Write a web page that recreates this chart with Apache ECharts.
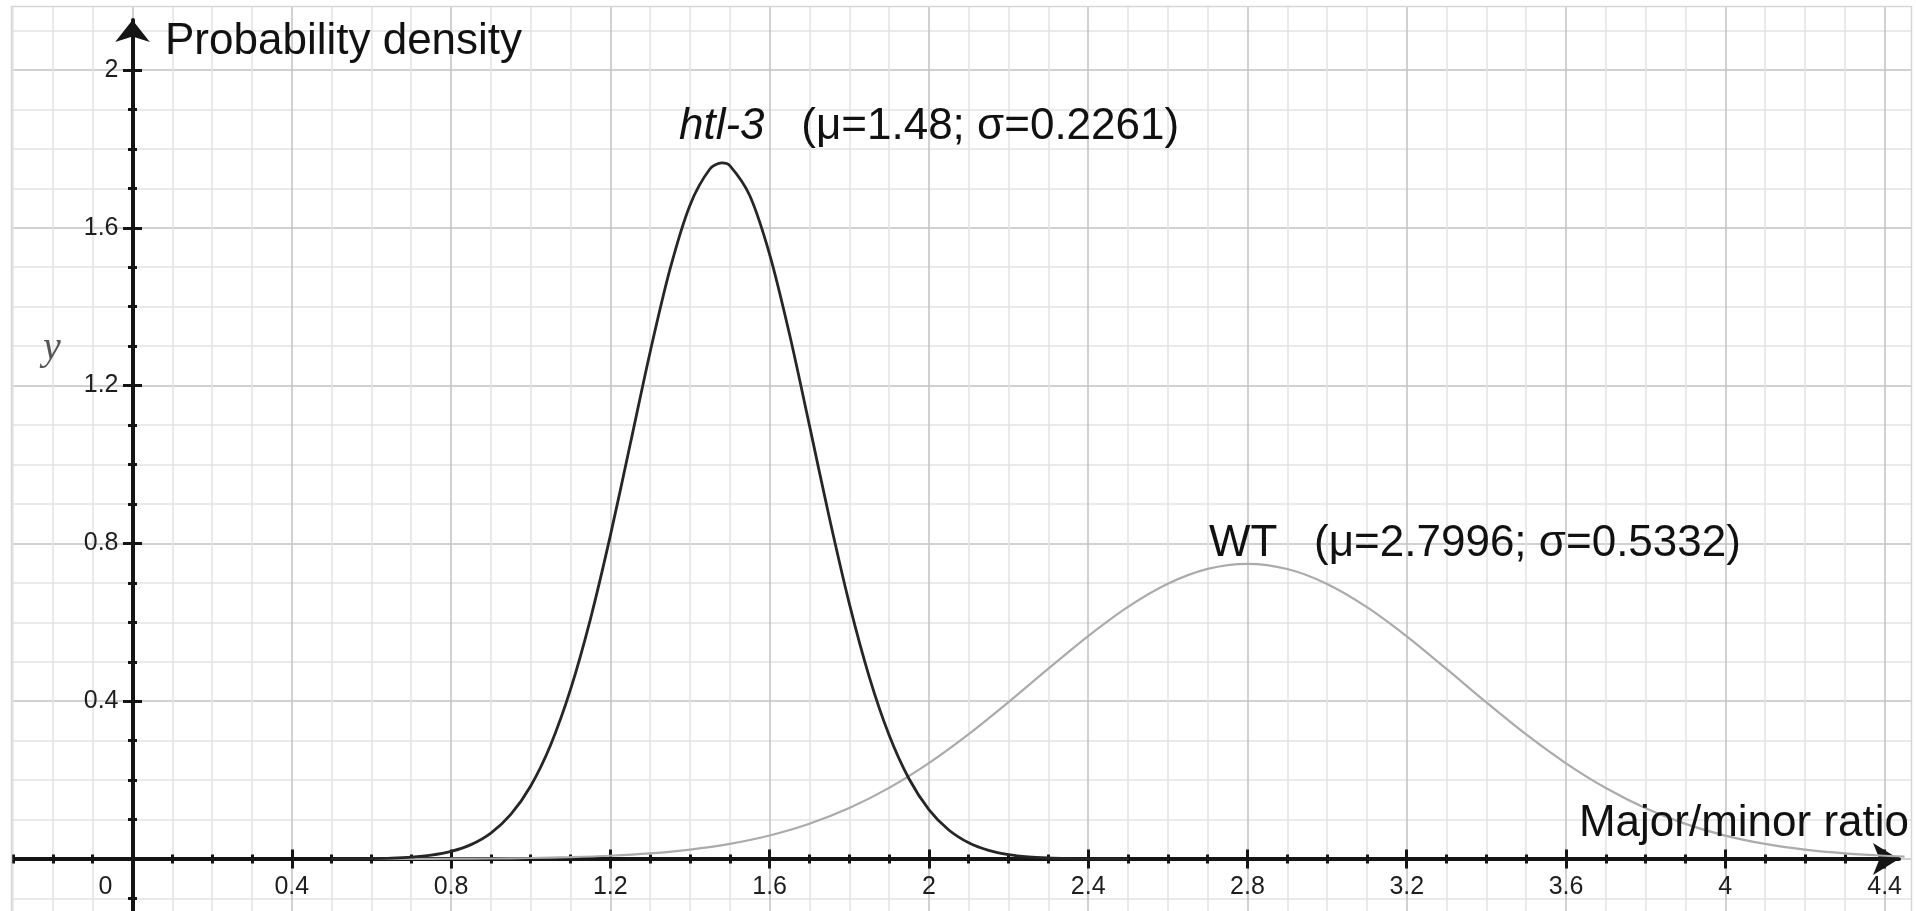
<!DOCTYPE html>
<html>
<head>
<meta charset="utf-8">
<script src="https://cdn.jsdelivr.net/npm/echarts@6/dist/echarts.min.js"></script>
<style>
html,body{margin:0;padding:0;background:#fff;}
#chart{width:1916px;height:911px;}
</style>
</head>
<body>
<div id="chart"></div>
<script>
// ---- data ----
const htlX = [0.5,0.55,0.6,0.65,0.7,0.75,0.8,0.85,0.9,0.95,1.0,1.05,1.1,1.15,1.2,1.25,1.3,1.35,1.4,1.45,1.48,1.5,1.55,1.6,1.65,1.7,1.75,1.8,1.85,1.9,1.95,2.0,2.05,2.1,2.15,2.2,2.25,2.3,2.35,2.4,2.5];
const htlY = [0.0002,0.0004,0.0009,0.0021,0.0046,0.0096,0.0192,0.0364,0.0657,0.1131,0.1852,0.2892,0.4299,0.6083,0.8196,1.0518,1.2853,1.4956,1.6574,1.7490,1.7645,1.7576,1.6819,1.5327,1.3301,1.0991,0.8650,0.6481,0.4625,0.3143,0.2034,0.1253,0.0735,0.0411,0.0219,0.0111,0.0053,0.0025,0.0011,0.0004,0.0001];
const wtX = [0.6,0.7,0.8,0.9,1.0,1.1,1.2,1.3,1.4,1.5,1.6,1.7,1.8,1.9,2.0,2.1,2.2,2.3,2.4,2.5,2.6,2.7,2.8,2.9,3.0,3.1,3.2,3.3,3.4,3.5,3.6,3.7,3.8,3.9,4.0,4.1,4.2,4.3,4.4,4.45];
const wtY = [0.0002,0.0003,0.0007,0.0013,0.0025,0.0047,0.0083,0.0143,0.0239,0.0384,0.0596,0.0893,0.1291,0.1803,0.2430,0.3164,0.3976,0.4824,0.5650,0.6390,0.6976,0.7353,0.7482,0.7350,0.6972,0.6384,0.5644,0.4817,0.3969,0.3157,0.2425,0.1798,0.1287,0.0890,0.0594,0.0382,0.0238,0.0143,0.0083,0.0062];
const xTickLabels = ['0','0.4','0.8','1.2','1.6','2','2.4','2.8','3.2','3.6','4','4.4'];
const yTickLabels = ['0.4','0.8','1.2','1.6','2'];
const htlName = 'htl-3';
const htlStats = '   (μ=1.48; σ=0.2261)';
const wtName = 'WT';
const wtStats = '   (μ=2.7996; σ=0.5332)';
const yTitle = 'Probability density';
const xTitle = 'Major/minor ratio';
const yLetter = 'y';

const pairs = (xs, ys) => xs.map((x, i) => [x, ys[i]]);
const findLabel = (list, v) => {
  const r = Math.round(v * 100) / 100;
  for (const s of list) { if (Math.abs(parseFloat(s) - r) < 1e-6) return s; }
  return '';
};

const tickFont = { fontFamily: 'Liberation Sans', fontSize: 25, color: '#1e1e1e' };
const gridMajor = { color: '#c2c2c2', width: 1.5 };
const gridMinor = { color: '#e4e4e4', width: 1.5 };
const tickLine = { color: '#151515', width: 3 };
const hidden = { axisLine: { show: false }, axisTick: { show: false }, splitLine: { show: false } };

const chart = echarts.init(document.getElementById('chart'), null, { renderer: 'canvas' });
chart.setOption({
  animation: false,
  backgroundColor: '#fff',
  grid: [
    { left: -26.78, top: -87.8, width: 2070.64, height: 1104.6, containLabel: false, outerBoundsMode: 'none' },
    { left: 11, top: 20, right: 17, bottom: 0, containLabel: false, outerBoundsMode: 'none' },
    { left: 132.5, top: 70, width: 1752.1, height: 789, containLabel: false, outerBoundsMode: 'none' }
  ],
  xAxis: [
    { type: 'value', gridIndex: 0, position: 'bottom', min: -0.4, max: 4.8, interval: 0.4,
      axisLine: { show: false, onZero: true },
      axisTick: { show: true, length: 9.5, lineStyle: tickLine },
      minorTick: { show: true, splitNumber: 4, length: 4.5, lineStyle: tickLine },
      splitLine: { show: true, lineStyle: gridMajor },
      minorSplitLine: { show: true, lineStyle: gridMinor },
      axisLabel: { show: false } },
    { type: 'value', gridIndex: 0, position: 'bottom', min: -0.4, max: 4.8, interval: 0.4,
      axisLine: { show: false, onZero: true },
      axisTick: { show: true, inside: true, length: 9.5, lineStyle: tickLine },
      minorTick: { show: true, splitNumber: 4, length: 4.5, lineStyle: tickLine },
      splitLine: { show: false }, axisLabel: { show: false } },
    { type: 'value', gridIndex: 1, min: -0.30512, max: 4.43622,
      axisLine: { show: true, onZero: true, symbol: ['none', 'arrow'], symbolSize: [24, 26],
        lineStyle: { color: '#151515', width: 4 } },
      axisTick: { show: false }, axisLabel: { show: false }, splitLine: { show: false } },
    { type: 'value', gridIndex: 2, position: 'bottom', min: 0, max: 4.4, interval: 0.4, ...hidden,
      axisLine: { show: false, onZero: false },
      axisLabel: { show: true, margin: 16, ...tickFont, showMinLabel: true, showMaxLabel: true,
        formatter: v => { const s = findLabel(xTickLabels, v); return s === '0' ? '{z|0}' : s; },
        rich: { z: { ...tickFont, padding: [0, 54, 0, 0] } } } }
  ],
  yAxis: [
    { type: 'value', gridIndex: 0, position: 'left', min: -0.4, max: 2.4, interval: 0.4,
      axisLine: { show: false, onZero: true },
      axisTick: { show: true, length: 9.5, lineStyle: tickLine },
      minorTick: { show: true, splitNumber: 4, length: 4.5, lineStyle: tickLine },
      splitLine: { show: true, lineStyle: gridMajor },
      minorSplitLine: { show: true, lineStyle: gridMinor },
      axisLabel: { show: false } },
    { type: 'value', gridIndex: 0, position: 'left', min: -0.4, max: 2.4, interval: 0.4,
      axisLine: { show: false, onZero: true },
      axisTick: { show: true, inside: true, length: 9.5, lineStyle: tickLine },
      minorTick: { show: true, splitNumber: 4, length: 4.5, lineStyle: tickLine },
      splitLine: { show: false }, axisLabel: { show: false } },
    { type: 'value', gridIndex: 1, min: -0.13181, max: 2.12674,
      axisLine: { show: true, onZero: true, symbol: ['none', 'arrow'], symbolSize: [26, 22],
        lineStyle: { color: '#151515', width: 4 } },
      axisTick: { show: false }, axisLabel: { show: false }, splitLine: { show: false } },
    { type: 'value', gridIndex: 2, position: 'left', min: 0, max: 2, interval: 0.4, ...hidden,
      axisLine: { show: false, onZero: false },
      axisLabel: { show: true, margin: 14, ...tickFont, verticalAlign: 'middle', padding: [18, 0, 0, 0],
        showMinLabel: true, showMaxLabel: true,
        formatter: v => findLabel(yTickLabels, v) } }
  ],
  series: [
    { name: wtName, type: 'line', xAxisIndex: 0, yAxisIndex: 0, data: pairs(wtX, wtY),
      smooth: 0.3, showSymbol: false, lineStyle: { color: '#ababab', width: 2.2 }, z: 3 },
    { name: htlName, type: 'line', xAxisIndex: 0, yAxisIndex: 0, data: pairs(htlX, htlY),
      smooth: 0.3, showSymbol: false, lineStyle: { color: '#262626', width: 2.8 }, z: 4 }
  ],
  graphic: [
    { type: 'rect', z: 100, shape: { x: 0, y: 0, width: 11, height: 911 }, style: { fill: '#fff' } },
    { type: 'rect', z: 100, shape: { x: 0, y: 0, width: 1916, height: 6 }, style: { fill: '#fff' } },
    { type: 'rect', z: 100, shape: { x: 1912, y: 0, width: 4, height: 911 }, style: { fill: '#fff' } },
    { type: 'rect', z: 101, shape: { x: 11.5, y: 6.5, width: 1900, height: 910 }, style: { fill: null, stroke: '#d6d6d6', lineWidth: 1.5 } },
    { type: 'text', z: 110, x: 165, y: 42, style: { text: yTitle, font: '44px "Liberation Sans"', fill: '#111', align: 'left', verticalAlign: 'middle' } },
    { type: 'text', z: 110, x: 1909, y: 824, style: { text: xTitle, font: '44px "Liberation Sans"', fill: '#111', align: 'right', verticalAlign: 'middle' } },
    { type: 'text', z: 110, x: 52, y: 348, style: { text: yLetter, font: 'italic 40px "Liberation Serif"', fill: '#555', align: 'center', verticalAlign: 'middle' } },
    { type: 'text', z: 110, x: 679, y: 127, style: { text: '{i|' + htlName + '}{n|' + htlStats + '}', align: 'left', verticalAlign: 'middle',
      rich: { i: { font: 'italic 44px "Liberation Sans"', fill: '#111' }, n: { font: '44px "Liberation Sans"', fill: '#111' } } } },
    { type: 'text', z: 110, x: 1209, y: 544, style: { text: wtName + wtStats, font: '44px "Liberation Sans"', fill: '#111', align: 'left', verticalAlign: 'middle' } }
  ]
});
</script>
</body>
</html>
